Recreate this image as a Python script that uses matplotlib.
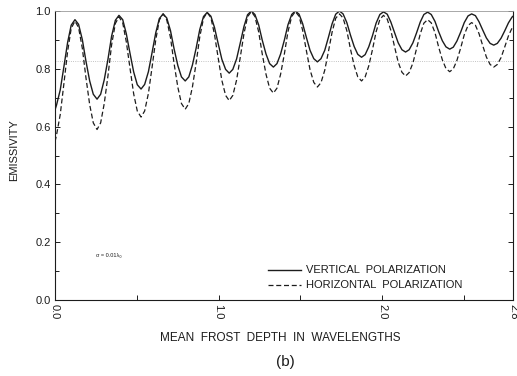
import numpy as np
import matplotlib
matplotlib.use('Agg')
import matplotlib.pyplot as plt

# mean frost depth (wavelengths)
depth = [0.000,
         0.009, 0.032, 0.054, 0.077, 0.099, 0.122, 0.144, 0.167, 0.189, 0.212, 0.234, 0.257,
         0.279, 0.301, 0.324, 0.346, 0.369, 0.391, 0.414, 0.436, 0.459, 0.481, 0.503, 0.526,
         0.548, 0.571, 0.593, 0.616, 0.638, 0.661, 0.683, 0.706, 0.728, 0.751, 0.773, 0.796,
         0.818, 0.840, 0.863, 0.885, 0.908, 0.930, 0.953, 0.975, 0.998, 1.020, 1.043, 1.065,
         1.087, 1.110, 1.132, 1.155, 1.177, 1.200, 1.222, 1.245, 1.267, 1.290, 1.312, 1.335,
         1.357, 1.379, 1.402, 1.424, 1.447, 1.469, 1.492, 1.514, 1.537, 1.559, 1.582, 1.604,
         1.626, 1.649, 1.671, 1.694, 1.716, 1.739, 1.761, 1.784, 1.806, 1.829, 1.851, 1.874,
         1.896, 1.918, 1.941, 1.963, 1.986, 2.008, 2.031, 2.053, 2.076, 2.098, 2.121, 2.143,
         2.165, 2.188, 2.210, 2.233, 2.255, 2.278, 2.300, 2.323, 2.345, 2.368, 2.390, 2.413,
         2.435, 2.457, 2.480, 2.502, 2.525, 2.547, 2.570, 2.592, 2.615, 2.637, 2.660, 2.682,
         2.704, 2.727, 2.749, 2.772, 2.794, 2.800]

# emissivity, vertical polarization
vertical = [0.658,
            0.674, 0.727, 0.806, 0.891, 0.951, 0.970, 0.954, 0.901, 0.827, 0.758, 0.712, 0.695,
            0.712, 0.762, 0.834, 0.913, 0.968, 0.985, 0.970, 0.921, 0.852, 0.789, 0.745, 0.730,
            0.746, 0.790, 0.855, 0.925, 0.974, 0.990, 0.976, 0.932, 0.869, 0.811, 0.772, 0.758,
            0.772, 0.813, 0.872, 0.936, 0.981, 0.995, 0.982, 0.943, 0.886, 0.833, 0.798, 0.785,
            0.798, 0.834, 0.888, 0.946, 0.987, 1.000, 0.988, 0.952, 0.899, 0.851, 0.818, 0.806,
            0.818, 0.851, 0.899, 0.952, 0.988, 1.000, 0.989, 0.956, 0.908, 0.864, 0.835, 0.824,
            0.835, 0.864, 0.908, 0.956, 0.989, 1.000, 0.990, 0.960, 0.917, 0.877, 0.850, 0.840,
            0.849, 0.876, 0.915, 0.958, 0.988, 0.997, 0.989, 0.962, 0.925, 0.890, 0.866, 0.858,
            0.866, 0.890, 0.924, 0.962, 0.988, 0.996, 0.988, 0.964, 0.929, 0.897, 0.876, 0.868,
            0.875, 0.896, 0.927, 0.960, 0.983, 0.990, 0.984, 0.963, 0.934, 0.907, 0.888, 0.882,
            0.888, 0.906, 0.931, 0.959, 0.979, 0.982]

# emissivity, horizontal polarization
horizontal = [0.548,
              0.570, 0.642, 0.747, 0.860, 0.940, 0.965, 0.943, 0.871, 0.770, 0.676, 0.613, 0.590,
              0.613, 0.680, 0.777, 0.883, 0.957, 0.980, 0.959, 0.893, 0.800, 0.713, 0.654, 0.633,
              0.654, 0.715, 0.804, 0.901, 0.969, 0.990, 0.970, 0.908, 0.818, 0.736, 0.680, 0.660,
              0.680, 0.737, 0.821, 0.911, 0.975, 0.995, 0.977, 0.919, 0.836, 0.760, 0.708, 0.690,
              0.708, 0.761, 0.838, 0.921, 0.980, 0.998, 0.981, 0.928, 0.851, 0.781, 0.733, 0.716,
              0.733, 0.781, 0.851, 0.928, 0.981, 0.998, 0.982, 0.933, 0.862, 0.797, 0.753, 0.737,
              0.752, 0.795, 0.858, 0.927, 0.975, 0.990, 0.976, 0.932, 0.869, 0.811, 0.772, 0.758,
              0.772, 0.810, 0.867, 0.928, 0.971, 0.985, 0.972, 0.933, 0.876, 0.823, 0.788, 0.775,
              0.787, 0.820, 0.869, 0.921, 0.958, 0.970, 0.959, 0.925, 0.876, 0.831, 0.801, 0.790,
              0.800, 0.829, 0.872, 0.918, 0.950, 0.960, 0.951, 0.922, 0.880, 0.841, 0.815, 0.806,
              0.815, 0.839, 0.875, 0.914, 0.941, 0.946]

xtick_pos = [0.0, 0.5, 1.0, 1.5, 2.0, 2.5, 2.8]
xtick_lab = ['0.0', '', '1.0', '', '2.0', '', '2.8']

plt.rcParams['font.family'] = ['Liberation Sans', 'DejaVu Sans']
ink = '#1c1c1c'

fig = plt.figure(figsize=(5.17, 3.76), dpi=100)
ax = fig.add_axes([0.1064, 0.2021, 0.8859, 0.7686])

ax.plot(depth, vertical, color=ink, lw=1.0, label='VERTICAL  POLARIZATION')
ax.plot(depth, horizontal, color=ink, lw=0.9, dashes=(4, 2.2),
        label='HORIZONTAL  POLARIZATION')
ax.axhline(0.827, color='#b0b0b0', lw=0.6, ls=':', zorder=0)

ax.set_xlim(0, 2.8)
ax.set_ylim(0, 1.0)
ax.set_xticks(xtick_pos)
ax.set_xticklabels(xtick_lab, rotation=270, fontsize=8, color=ink)
ax.set_yticks(np.arange(0, 1.01, 0.2))
ax.set_yticklabels(['0.0', '0.2', '0.4', '0.6', '0.8', '1.0'], fontsize=8, color=ink)
ax.set_yticks(np.arange(0, 1.01, 0.1), minor=True)
ax.tick_params(axis='both', which='both', direction='in', length=3.5,
               width=0.7, color=ink, pad=3)
ax.tick_params(axis='y', which='both', right=True)
ax.tick_params(axis='y', which='minor', length=3)

for side in ['left', 'bottom', 'right']:
    ax.spines[side].set_color(ink)
    ax.spines[side].set_linewidth(0.8)
ax.spines['top'].set_color('#9a9a9a')
ax.spines['top'].set_linewidth(0.6)

leg = ax.legend(loc='lower left', bbox_to_anchor=(0.465, 0.033), frameon=False,
                fontsize=8, handlelength=3.0, handletextpad=0.45,
                labelspacing=0.45, borderpad=0, borderaxespad=0)
for t in leg.get_texts():
    t.set_color(ink)

ax.text(0.09, 0.148, 'σ = 0.01λ₀', fontsize=4, color=ink, transform=ax.transAxes)

fig.text(0.027, 0.60, 'EMISSIVITY', rotation=90, fontsize=8, color=ink,
         ha='center', va='center')
fig.text(0.543, 0.101, 'MEAN  FROST  DEPTH  IN  WAVELENGTHS', fontsize=8.5,
         color=ink, ha='center', va='center')
fig.text(0.552, 0.037, '(b)', fontsize=11, color=ink, ha='center', va='center')

fig.savefig('out.png', dpi=100, facecolor='white')
